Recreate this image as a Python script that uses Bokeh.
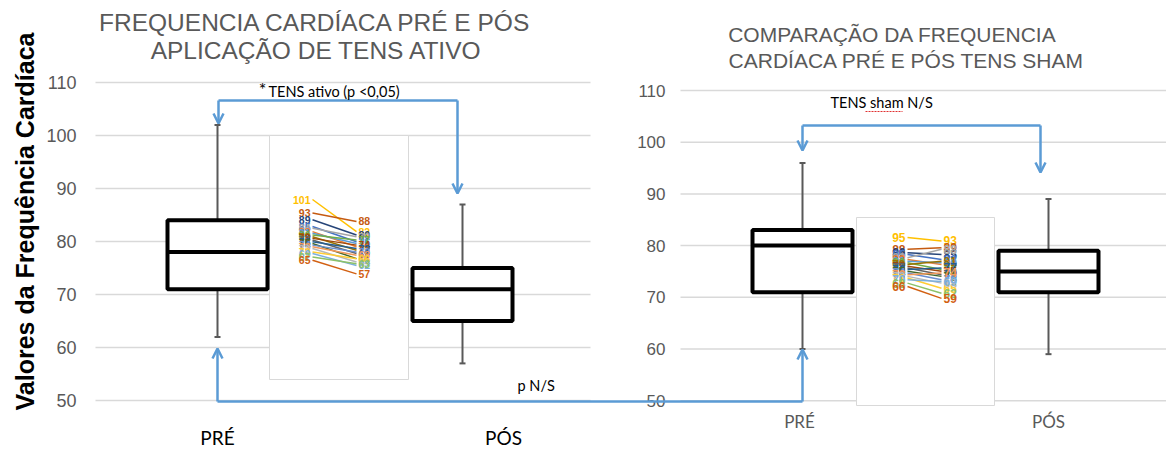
import math
from bokeh.plotting import figure
from bokeh.models import Range1d, Arrow, OpenHead
from bokeh.core.properties import value
from bokeh.embed import file_html
from bokeh.resources import INLINE

# ---------------- data ----------------
groups = ["PRÉ", "PÓS"]
ticks = [50, 60, 70, 80, 90, 100, 110]

# TENS ativo box statistics (PRÉ, PÓS)
ativo_lower = [62, 57]
ativo_q1 = [71, 65]
ativo_median = [78, 71]
ativo_q3 = [84, 75]
ativo_upper = [102, 87]

# TENS sham box statistics (PRÉ, PÓS)
sham_lower = [60, 59]
sham_q1 = [71, 71]
sham_median = [80, 75]
sham_q3 = [83, 79]
sham_upper = [96, 89]

# individual subjects (inset spaghetti plots)
ativo_pre = [101, 93, 89, 85, 84, 82, 81, 80, 79, 78, 77, 76, 75, 74, 73, 72, 70, 69, 67, 65]
ativo_pos = [82, 88, 80, 76, 79, 73, 75, 77, 71, 74, 69, 72, 66, 70, 68, 64, 66, 62, 63, 57]
sham_pre = [95, 88, 86, 85, 83, 82, 81, 80, 79, 78, 77, 76, 75, 74, 73, 72, 71, 70, 68, 66]
sham_pos = [93, 89, 85, 82, 88, 79, 80, 76, 81, 75, 73, 77, 72, 70, 74, 68, 65, 69, 62, 59]

palette = ["#FFC000", "#C55A11", "#264478", "#4472C4", "#A5A5A5", "#ED7D31", "#5B9BD5",
           "#70AD47", "#997300", "#9E480E", "#636363", "#255E91", "#43682B", "#698ED0",
           "#F1975A", "#B7B7B7", "#FFCD33", "#7CAFDD", "#8CC168", "#D26012"]

# ---------------- layout ----------------
W, H = 1166, 449
OX, OY = 0, 0
L_PX, L_REF_V, L_REF_Y = 5.3, 110, 82     # left panel: px per unit, 110 at image y 82
R_PX, R_REF_V, R_REF_Y = 5.17, 110, 90    # right panel


def ly(img_y):
    return L_REF_V - (img_y - L_REF_Y) / L_PX


def ry(img_y):
    return R_REF_V - (img_y - R_REF_Y) / R_PX


BLUE = "#5B9BD5"
GRID = "#d9d9d9"
GRAY_TXT = "#595959"

p = figure(width=W, height=H, x_range=Range1d(OX, OX + W),
           y_range=Range1d(ly(OY + H), ly(OY)),
           output_backend="svg", toolbar_location=None,
           x_axis_location=None, y_axis_location=None, min_border=0)
p.extra_y_ranges = {"r": Range1d(ry(OY + H), ry(OY))}
p.grid.visible = False
p.outline_line_color = None
p.background_fill_color = "white"
p.border_fill_color = "white"

# gridlines
p.segment(x0=95, x1=590, y0=ticks, y1=ticks, line_color=GRID, line_width=1.5)
p.segment(x0=680, x1=OX + W, y0=ticks, y1=ticks, line_color=GRID, line_width=1.5, y_range_name="r")

# tick labels
p.text(x=[76] * len(ticks), y=ticks, text=[str(t) for t in ticks], text_align="right",
       text_baseline="middle", text_font=value("Liberation Sans"), text_font_size="18px",
       text_color=GRAY_TXT)
p.text(x=[665] * len(ticks), y=ticks, text=[str(t) for t in ticks], text_align="right",
       text_baseline="middle", text_font=value("Liberation Sans"), text_font_size="17px",
       text_color=GRAY_TXT, y_range_name="r")

# inset panels
p.quad(left=269, right=408, top=ly(135), bottom=ly(379), fill_color="white", line_color=GRID, line_width=1)
p.quad(left=856, right=994, top=ry(217), bottom=ry(405), fill_color="white", line_color=GRID,
       line_width=1, y_range_name="r")


def inset(pre, pos, x_lab_l, x_line0, x_line1, x_lab_r, ref_v, ref_img, conv, fsize, rng):
    f = lambda v: conv(ref_img + (ref_v - v) * 1.69)
    cols = [palette[i % len(palette)] for i in range(len(pre))]
    kw = {} if rng is None else {"y_range_name": rng}
    p.multi_line(xs=[[x_line0, x_line1]] * len(pre), ys=[[f(a), f(b)] for a, b in zip(pre, pos)],
                 line_color=cols, line_width=1.5, **kw)
    p.text(x=[x_lab_l] * len(pre), y=[f(v) for v in pre], text=[str(v) for v in pre],
           text_align="right", text_baseline="middle", text_color=cols, text_font_style="bold",
           text_font=value("Liberation Sans"), text_font_size=fsize, **kw)
    p.text(x=[x_lab_r] * len(pos), y=[f(v) for v in pos], text=[str(v) for v in pos],
           text_align="left", text_baseline="middle", text_color=cols, text_font_style="bold",
           text_font=value("Liberation Sans"), text_font_size=fsize, **kw)


inset(ativo_pre, ativo_pos, 310, 312, 356, 358, 101, 199, ly, "10.5px", None)
inset(sham_pre, sham_pos, 905, 907, 941, 943, 95, 237, ry, "12px", "r")


# box plots
def boxes(xs, lower, q1, med, q3, upper, rng):
    kw = {} if rng is None else {"y_range_name": rng}
    p.segment(x0=xs, x1=xs, y0=q3, y1=upper, line_color="#595959", line_width=2, **kw)
    p.segment(x0=xs, x1=xs, y0=q1, y1=lower, line_color="#595959", line_width=2, **kw)
    p.segment(x0=[x - 3 for x in xs], x1=[x + 3 for x in xs], y0=upper, y1=upper,
              line_color="#595959", line_width=2, **kw)
    p.segment(x0=[x - 3 for x in xs], x1=[x + 3 for x in xs], y0=lower, y1=lower,
              line_color="#595959", line_width=2, **kw)
    p.quad(left=[x - 50 for x in xs], right=[x + 50 for x in xs], bottom=q1, top=q3,
           fill_color="white", line_color="black", line_width=4, **kw)
    p.segment(x0=[x - 50 for x in xs], x1=[x + 50 for x in xs], y0=med, y1=med,
              line_color="black", line_width=4, **kw)


LX = [217, 462]
RX = [802, 1048]
boxes(LX, ativo_lower, ativo_q1, ativo_median, ativo_q3, ativo_upper, None)
boxes(RX, sham_lower, sham_q1, sham_median, sham_q3, sham_upper, "r")


# brackets / arrows
def arrow(x, y0, y1, rng=None):
    kw = {} if rng is None else {"y_range_name": rng}
    p.add_layout(Arrow(end=OpenHead(size=10, line_color=BLUE, line_width=2.5),
                       x_start=x, y_start=y0, x_end=x, y_end=y1,
                       line_color=BLUE, line_width=2.5, **kw))


# top-left bracket
yb = ly(100)
p.line(x=[218, 457], y=[yb, yb], line_color=BLUE, line_width=2.5)
arrow(218, yb, ly(123))
arrow(457, yb, ly(193))
# top-right bracket
yr = ry(125)
p.line(x=[802, 1040], y=[yr, yr], line_color=BLUE, line_width=2.5, y_range_name="r")
arrow(802, yr, ry(150), "r")
arrow(1040, yr, ry(172), "r")
# bottom bracket connecting both PRÉ
ybot = ly(401)
p.line(x=[217, 802], y=[ybot, ybot], line_color=BLUE, line_width=2.5)
arrow(217, ybot, ly(348))
arrow(802, ry(401), ry(349), "r")


# texts
def txt(x, y, s, size, color="black", font="Liberation Sans", style="normal", align="center",
        angle=0, rng=None):
    kw = {} if rng is None else {"y_range_name": rng}
    p.text(x=[x], y=[y], text=[s], text_font=value(font), text_font_size=size,
           text_color=color, text_font_style=style, text_align=align,
           text_baseline="middle", angle=angle, **kw)


txt(315, ly(22), "FREQUENCIA CARDÍACA PRÉ E PÓS", "24.5px", GRAY_TXT)
txt(316, ly(50), "APLICAÇÃO DE TENS ATIVO", "24.5px", GRAY_TXT)
txt(892, ly(34), "COMPARAÇÃO DA FREQUENCIA", "21px", GRAY_TXT)
txt(906, ly(60), "CARDÍACA PRÉ E PÓS TENS SHAM", "21px", GRAY_TXT)

txt(24, ly(221), "Valores da Frequência Cardíaca", "25px", "black", style="bold",
    angle=math.pi / 2)

txt(262, ly(88), "*", "18px", "black", font="Lato")
txt(268, ly(91), "TENS ativo (p <0,05)", "14.5px", "black", font="Lato", align="left")
txt(830, ly(102), "TENS sham N/S", "14.5px", "black", font="Lato", align="left")
# spell-check squiggle under "sham" as in the source picture
p.line(x=[865, 902], y=[ly(111), ly(111)], line_color="#e03030", line_width=1, line_dash="2 1")
txt(517, ly(385), "p N/S", "14.5px", "black", font="Lato", align="left")

txt(217, ly(437), groups[0], "19px", "black", font="Lato")
txt(503, ly(437), groups[1], "19px", "black", font="Lato")
txt(799, ly(421), groups[0], "17px", GRAY_TXT, font="Lato")
txt(1048, ly(421), groups[1], "17px", GRAY_TXT, font="Lato")

open("out.html", "w").write(file_html(p, INLINE))
